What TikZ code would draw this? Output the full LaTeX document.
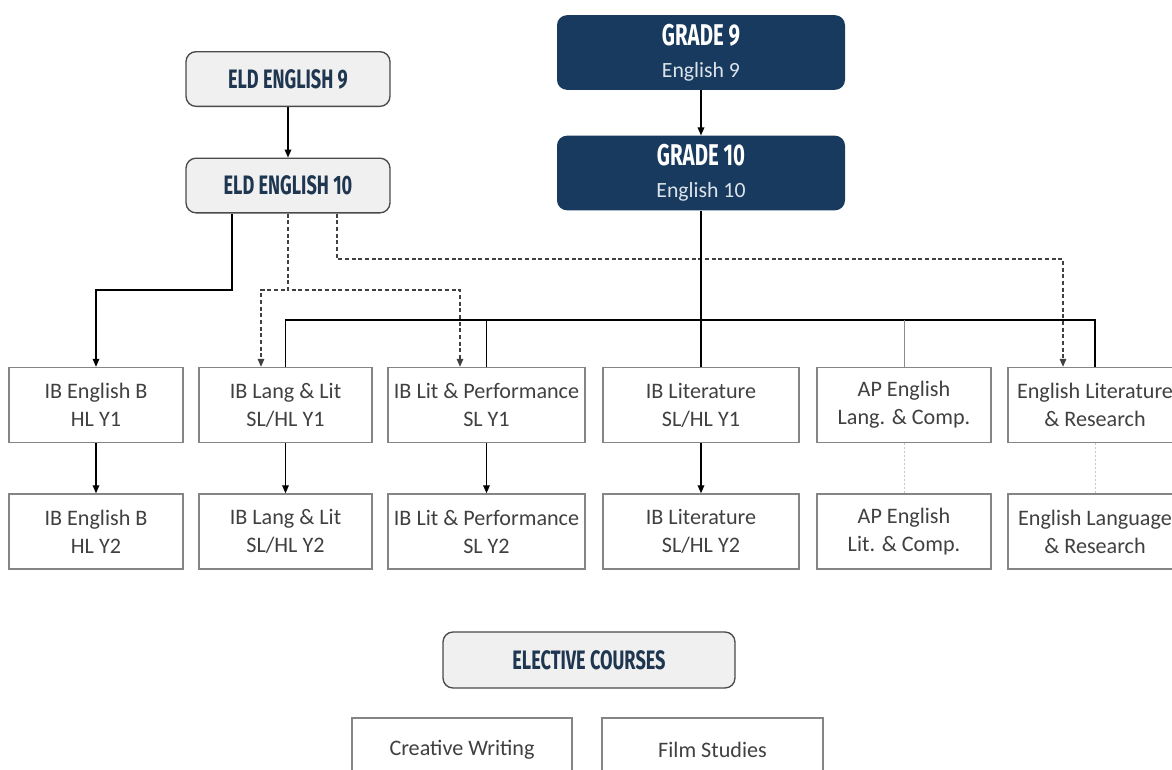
\documentclass[tikz,border=0pt]{standalone}
\usepackage{fontspec}
\setmainfont{Carlito}
\newfontfamily\headfont[FakeStretch=0.68]{Fira Sans}
\usetikzlibrary{arrows.meta}
\definecolor{navy}{HTML}{173A5E}
\definecolor{headtxt}{HTML}{1F3651}
\definecolor{palegray}{HTML}{F0F0F0}
\definecolor{edgegray}{HTML}{858585}
\definecolor{darkedge}{HTML}{4A4A4A}
\definecolor{bodytxt}{HTML}{404040}
\definecolor{faint}{HTML}{C8C8C8}
\definecolor{subtxt}{HTML}{DCE3EA}
\begin{document}
\begin{tikzpicture}[x=0.75pt,y=-0.75pt,
  course/.style={draw=edgegray, line width=1.1pt, fill=white, align=center,
    text=bodytxt, inner sep=0pt, minimum height=56.25pt,
    font=\fontsize{16.6}{21}\selectfont},
  eldbox/.style={draw=darkedge, line width=1pt, fill=palegray, rounded corners=7.5pt,
    minimum width=153pt, minimum height=41pt, text=headtxt, inner sep=0pt,
    font=\headfont\bfseries\fontsize{20}{22}\selectfont},
  gradebox/.style={fill=navy, rounded corners=7.5pt, minimum width=216pt,
    minimum height=56pt, text=white, align=center, inner sep=0pt,
    font=\fontsize{16.3}{24}\selectfont},
  gradetitle/.style={font=\headfont\bfseries\fontsize{22.5}{24}\selectfont},
  conn/.style={line width=0.9pt, black},
  arr/.style={conn, -{Triangle[length=6pt,width=5pt]}},
  dsh/.style={line width=0.8pt, black!75, dash pattern=on 3pt off 2pt},
  dsharr/.style={dsh, -{Triangle[length=6pt,width=5pt]}},
  faintline/.style={line width=0.7pt, black!45},
  dotline/.style={line width=0.7pt, faint, dash pattern=on 1.5pt off 1.5pt}
]
\useasboundingbox (0,0) rectangle (1172,769);

% top boxes
\node[eldbox] (eld9) at (288,79) {ELD ENGLISH 9};
\node[eldbox] (eld10) at (288,185.5) {ELD ENGLISH 10};
\node[gradebox] (g9) at (701,52.5) {{\headfont\bfseries\fontsize{22.5}{24}\selectfont GRADE 9}\\{\color{subtxt}English 9}};
\node[gradebox] (g10) at (701,173) {{\headfont\bfseries\fontsize{22.5}{24}\selectfont GRADE 10}\\{\color{subtxt}English 10}};

% row 1
\node[course, minimum width=130.5pt] (ibb1) at (96,405) {IB English B\\HL Y1};
\node[course, minimum width=129.75pt] (lang1) at (285.5,405) {IB Lang \& Lit\\SL/HL Y1};
\node[course, minimum width=147.75pt] (litp1) at (486.5,405) {IB Lit \& Performance\\SL Y1};
\node[course, minimum width=147pt] (ibl1) at (701,405) {IB Literature\\SL/HL Y1};
\node[course, minimum width=130.5pt] (ap1) at (904,405) {AP English\\Lang. \& Comp.};
\node[course, minimum width=130.5pt] (elr1) at (1095,405) {English Literature\\\& Research};

% row 2
\node[course, minimum width=130.5pt] (ibb2) at (96,531.5) {IB English B\\HL Y2};
\node[course, minimum width=129.75pt] (lang2) at (285.5,531.5) {IB Lang \& Lit\\SL/HL Y2};
\node[course, minimum width=147.75pt] (litp2) at (486.5,531.5) {IB Lit \& Performance\\SL Y2};
\node[course, minimum width=147pt] (ibl2) at (701,531.5) {IB Literature\\SL/HL Y2};
\node[course, minimum width=130.5pt] (ap2) at (904,531.5) {AP English\\Lit. \& Comp.};
\node[course, minimum width=130.5pt] (elr2) at (1095,531.5) {English Language\\\& Research};

% electives
\node[eldbox, minimum width=219pt, minimum height=42pt] (elect) at (589,660) {ELECTIVE COURSES};
\node[course, minimum width=165pt, minimum height=48pt] (cw) at (462,750) {Creative Writing};
\node[course, minimum width=165.75pt, minimum height=48pt] (film) at (712.5,750) {Film Studies};

% helper coordinates
\coordinate (bus) at (0,320);
\coordinate (sj) at (232,290);
\coordinate (d1) at (261,290);
\coordinate (d2) at (460,290);
\coordinate (e2) at (337,259);
\coordinate (e3) at (1063,259);

% connectors
\draw[arr] (eld9) -- (eld10);
\draw[arr] (g9) -- (g10);
\draw[arr] (eld10.south -| sj) -- (sj) -| (ibb1.north);
\draw[dsharr] (eld10.south) |- (d1) -- (d1 |- lang1.north);
\draw[dsharr] (eld10.south) |- (d2) -- (d2 |- litp1.north);
\draw[dsharr] (eld10.south -| e2) -- (e2) -- (e3) -- (e3 |- elr1.north);
\draw[conn] (g10.south) -- (ibl1.north);
\draw[conn] (lang1.north) |- (elr1.north |- bus) -- (elr1.north);
\draw[conn] (litp1.north) -- (litp1.north |- bus);
\draw[faintline] (ap1.north) -- (ap1.north |- bus);

\draw[arr] (ibb1) -- (ibb2);
\draw[arr] (lang1) -- (lang2);
\draw[arr] (litp1) -- (litp2);
\draw[arr] (ibl1) -- (ibl2);
\draw[dotline] (ap1) -- (ap2);
\draw[dotline] (elr1) -- (elr2);
\end{tikzpicture}
\end{document}
